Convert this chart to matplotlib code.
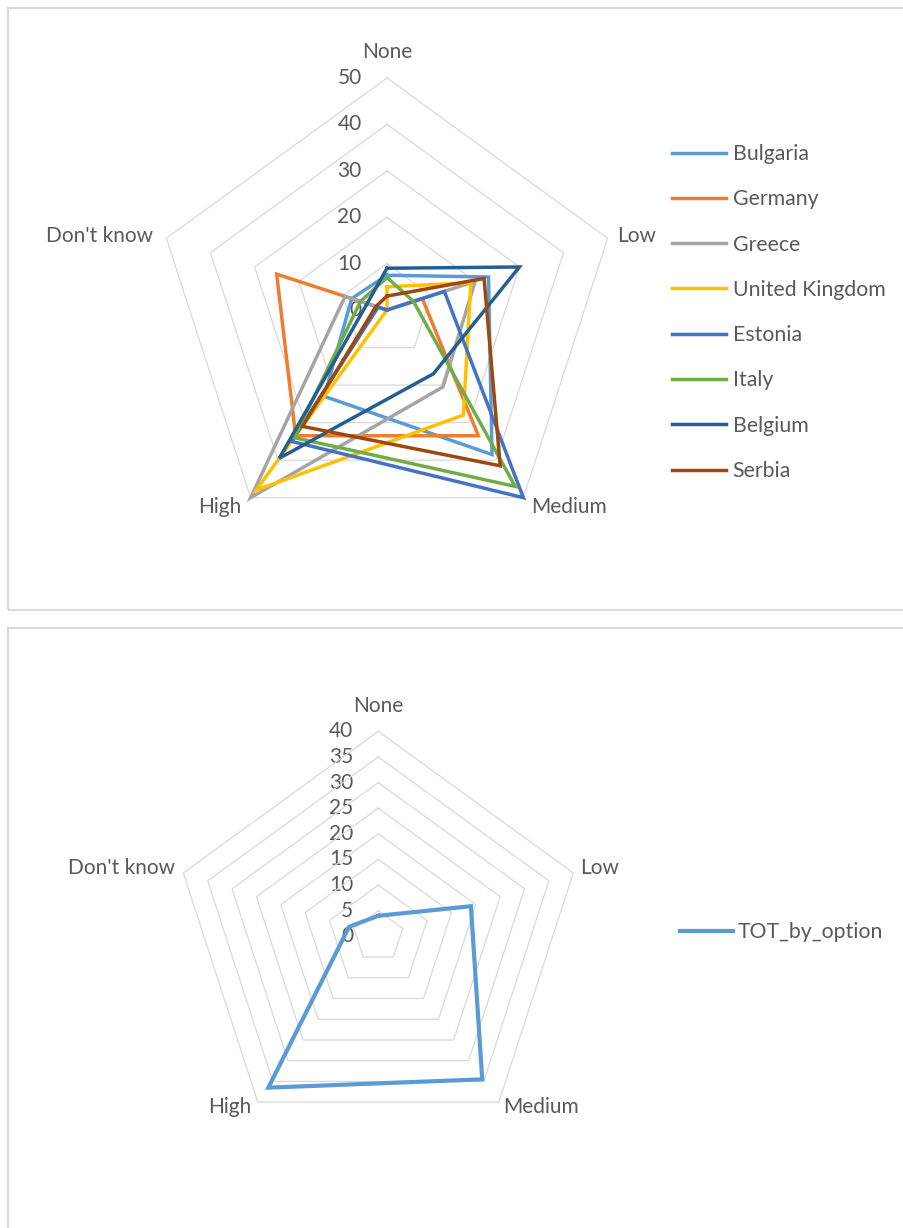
import numpy as np
import matplotlib
matplotlib.use("Agg")
import matplotlib.pyplot as plt
from matplotlib.patches import Rectangle

plt.rcParams['font.family'] = ['Lato', 'DejaVu Sans']

# data (percent of answers per option)
categories = ["None", "Low", "Medium", "High", "Don't know"]
countries = ["Bulgaria", "Germany", "Greece", "United Kingdom",
             "Estonia", "Italy", "Belgium", "Serbia"]
bulgaria = [7.5, 23, 38.5, 23, 8]
germany = [0, 8, 33.5, 33.5, 25]
greece = [0, 20, 20.5, 50, 9.5]
united_kingdom = [5, 19, 28, 48, 0]
estonia = [0, 13, 50, 35, 2]
italy = [7, 6, 47, 34, 6]
belgium = [9, 30, 17, 39.5, 4.5]
serbia = [3, 22, 41.5, 31, 2.5]
country_values = [bulgaria, germany, greece, united_kingdom,
                  estonia, italy, belgium, serbia]
country_colors = ["#5B9BD5", "#ED7D31", "#A5A5A5", "#FFC000",
                  "#4472C4", "#70AD47", "#255E91", "#9E480E"]

tot_label = "TOT_by_option"
tot_by_option = [4, 19, 34.5, 36.5, 6]

top_ticks = [0, 10, 20, 30, 40, 50]
bottom_ticks = [0, 5, 10, 15, 20, 25, 30, 35, 40]

W, H = 904, 1228
TXT = "#595959"
GRID = "#D9D9D9"

fig = plt.figure(figsize=(W / 100, H / 100), dpi=100)

angles = np.pi / 2 - 2 * np.pi * np.arange(len(categories)) / len(categories)


def to_xy(values):
    v = np.asarray(values, dtype=float)
    x = v * np.cos(angles)
    y = v * np.sin(angles)
    return np.append(x, x[0]), np.append(y, y[0])


def radar_axes(box, center, scale):
    x0, y0, x1, y1 = box
    ax = fig.add_axes([x0 / W, 1 - y1 / H, (x1 - x0) / W, (y1 - y0) / H])
    cx, cy = center
    ax.set_xlim((x0 - cx) / scale, (x1 - cx) / scale)
    ax.set_ylim((cy - y1) / scale, (cy - y0) / scale)
    ax.axis("off")
    return ax


def draw_grid(ax, ticks, label_x):
    for t in ticks[1:]:
        x, y = to_xy([t] * len(categories))
        ax.plot(x, y, color=GRID, lw=0.9, zorder=1)
    for t in ticks:
        ax.text(label_x, t, str(t), ha="right", va="center",
                fontsize=15, color=TXT, zorder=0)


def draw_labels(ax, rmax, offsets):
    x, y = to_xy([rmax] * len(categories))
    for i, name in enumerate(categories):
        dx, dy, ha = offsets[i]
        ax.annotate(name, (x[i], y[i]), xytext=(dx, dy), textcoords="offset points",
                    ha=ha, va="center", fontsize=15, color=TXT)


def panel_border(y_top, y_bot):
    fig.patches.append(Rectangle((7.5 / W, 1 - y_bot / H), 1.0, (y_bot - y_top) / H,
                                 transform=fig.transFigure, fill=False,
                                 edgecolor=GRID, lw=1.5))


# top chart
panel_border(8, 610)
ax1 = radar_axes((0, 12, 904, 606), (387, 310), 4.64)
draw_grid(ax1, top_ticks, -5.45)
draw_labels(ax1, 50, [(0, 19, "center"), (6.8, 2, "left"), (5.5, -6.5, "left"),
                      (-7, -6.5, "right"), (-9.6, 2, "right")])
for name, vals, col in zip(countries, country_values, country_colors):
    x, y = to_xy(vals)
    ax1.plot(x, y, color=col, lw=2.5, label=name, solid_joinstyle="miter", zorder=3)
ax1.legend(loc="upper left", bbox_to_anchor=(672 / W, 1 - 144 / H),
           bbox_transform=fig.transFigure, frameon=False, fontsize=15.3,
           handlelength=2.55, handletextpad=0.3, labelspacing=1.19,
           borderpad=0, borderaxespad=0, labelcolor=TXT)

# bottom chart
panel_border(628, 1240)
ax2 = radar_axes((0, 632, 904, 1228), (378.3, 936.3), 5.125)
draw_grid(ax2, bottom_ticks, -4.88)
draw_labels(ax2, 40, [(0, 18, "center"), (4.8, 3.6, "left"), (3, -3.6, "left"),
                      (-4.3, -3.6, "right"), (-6, 3.6, "right")])
x, y = to_xy(tot_by_option)
ax2.plot(x, y, color="#5B9BD5", lw=3.0, label=tot_label, solid_joinstyle="miter", zorder=3)
ax2.legend(loc="center left", bbox_to_anchor=(680 / W, 1 - 932 / H),
           bbox_transform=fig.transFigure, frameon=False, fontsize=15.3,
           handlelength=2.5, handletextpad=0.2, borderpad=0, borderaxespad=0,
           labelcolor=TXT)

fig.savefig("out.png", dpi=100)
